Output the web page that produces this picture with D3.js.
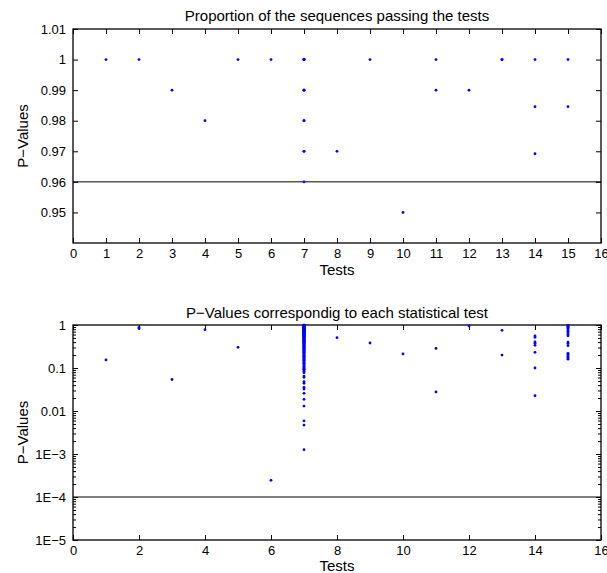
<!DOCTYPE html>
<html>
<head>
<meta charset="utf-8">
<script src="https://cdn.jsdelivr.net/npm/d3@7"></script>
<style>
  html, body { margin: 0; padding: 0; background: #fff; }
  svg { display: block; }
  text { font-family: "Liberation Sans", Arial, Helvetica, sans-serif; fill: #000; }
</style>
</head>
<body>
<svg id="chart" width="607" height="573"></svg>
<script>
// ---------------- DATA ----------------
const tests = [1,2,3,4,5,6,7,8,9,10,11,12,13,14,15];

// Proportion of sequences passing each test (one array per test)
const proportions = [
  [1],
  [1],
  [0.99],
  [0.98],
  [1],
  [1],
  [1,1,1,1,0.99,0.99,0.99,0.98,0.98,0.97,0.97,0.96],
  [0.97],
  [1],
  [0.95],
  [1,0.99],
  [0.99],
  [1,1],
  [1,0.9846,0.9692],
  [1,0.9846]
];

// P-values for each test (one array per test)
const pvalues = [
  [0.1538],
  [0.83,0.88],
  [0.054],
  [0.78],
  [0.303],
  [0.000244],
  [0.00126,0.0047,0.0059,0.013,0.0187,0.0258,0.0324,0.0356,0.044,0.048,0.0607,0.065,0.078,
   0.0813,0.0862,0.0905,0.0941,0.0987,0.1032,0.1079,0.1124,0.1188,0.1235,0.1297,0.1342,0.1411,
   0.1476,0.1523,0.1589,0.1654,0.1712,0.1786,0.1843,0.1912,0.1977,0.2045,0.2113,0.2189,0.2256,
   0.2318,0.2391,0.2467,0.2534,0.2611,0.2689,0.2745,0.2823,0.2898,0.2967,0.3045,0.3121,0.3199,
   0.3265,0.3342,0.3418,0.3496,0.3571,0.3647,0.3722,0.3801,0.3879,0.3954,0.4028,0.4106,0.4183,
   0.4257,0.4339,0.4412,0.4489,0.4563,0.4641,0.4718,0.4796,0.4871,0.4952,0.5027,0.5103,0.5182,
   0.5258,0.5336,0.5412,0.5493,0.5567,0.5648,0.5722,0.5801,0.5879,0.5955,0.6032,0.6111,0.6187,
   0.6265,0.6343,0.6419,0.6497,0.6574,0.6652,0.6729,0.6808,0.6885,0.6961,0.7039,0.7116,0.7194,
   0.7272,0.7349,0.7427,0.7503,0.7581,0.7659,0.7736,0.7813,0.7892,0.7968,0.8046,0.8123,0.8201,
   0.8279,0.8356,0.8434,0.8511,0.8589,0.8666,0.8744,0.8821,0.8898,0.8976,0.9053,0.9131,0.9208,
   0.9286,0.9363,0.9441,0.9518,0.9596,0.9673,0.9751,0.9828,0.9906,0.9962],
  [0.507],
  [0.381],
  [0.212],
  [0.286,0.0277],
  [0.95],
  [0.75,0.2],
  [0.555,0.518,0.402,0.375,0.337,0.232,0.1,0.0227],
  [0.98,0.93,0.89,0.84,0.78,0.72,0.66,0.60,0.56,0.40,0.37,0.33,0.22,0.205,0.19,0.18,0.17,0.16]
];

const topXTicks = [0,1,2,3,4,5,6,7,8,9,10,11,12,13,14,15,16];
const topYTicks = [0.95,0.96,0.97,0.98,0.99,1,1.01];
const topYLabels = ["0.95","0.96","0.97","0.98","0.99","1","1.01"];
const botXTicks = [0,2,4,6,8,10,12,14,16];
const botYTicks = [1e-5,1e-4,1e-3,1e-2,1e-1,1];
const botYLabels = ["1E\u22125","1E\u22124","1E\u22123","0.01","0.1","1"];
const propThreshold = 0.96;
const pvThreshold = 1e-4;

const titleTop = "Proportion of the sequences passing the tests";
const titleBot = "P\u2212Values correspondig to each statistical test";
const xLabel = "Tests";
const yLabel = "P\u2212Values";

// ---------------- DRAW ----------------
const svg = d3.select("#chart");
const L = 73, R = 601;
const fs = 13;      // tick labels
const fsl = 15;     // titles and axis labels

function flatten(arr) {
  const out = [];
  arr.forEach((vals, i) => vals.forEach(v => out.push({t: tests[i], v})));
  return out;
}

function panel(opts) {
  const {top, bottom, y, yTicks, yLabels, xTicks, minor, data, thr, title, titleY, xLabY} = opts;
  const x = d3.scaleLinear().domain([0,16]).range([L,R]);
  const g = svg.append("g");

  // threshold line
  g.append("line")
    .attr("x1", x(0)).attr("x2", x(16))
    .attr("y1", y(thr)).attr("y2", y(thr))
    .attr("stroke", "#000").attr("stroke-width", 1);

  // axes
  const styleAxis = sel => {
    sel.select(".domain").remove();
    sel.selectAll("line").attr("stroke", "#000").attr("stroke-width", 1);
    sel.selectAll("text").attr("font-size", fs).attr("font-family", null).style("fill","#000");
  };
  g.append("g").attr("transform", `translate(0,${bottom})`)
    .call(d3.axisBottom(x).tickValues(xTicks).tickSize(-5).tickPadding(6).tickFormat(d3.format("d")))
    .call(styleAxis);
  g.append("g").attr("transform", `translate(0,${top})`)
    .call(d3.axisTop(x).tickValues(xTicks).tickSize(-5).tickFormat(""))
    .call(styleAxis);
  g.append("g").attr("transform", `translate(${L},0)`)
    .call(d3.axisLeft(y).tickValues(yTicks).tickSize(-5).tickPadding(7).tickFormat((d,i) => yLabels[i]))
    .call(styleAxis);
  g.append("g").attr("transform", `translate(${R},0)`)
    .call(d3.axisRight(y).tickValues(yTicks).tickSize(-5).tickFormat(""))
    .call(styleAxis);
  if (minor) {
    g.append("g").attr("transform", `translate(${L},0)`)
      .call(d3.axisLeft(y).tickValues(minor).tickSize(-3).tickFormat(""))
      .call(styleAxis);
    g.append("g").attr("transform", `translate(${R},0)`)
      .call(d3.axisRight(y).tickValues(minor).tickSize(-3).tickFormat(""))
      .call(styleAxis);
  }

  // box
  g.append("rect")
    .attr("x", L).attr("y", top).attr("width", R - L).attr("height", bottom - top)
    .attr("fill", "none").attr("stroke", "#000").attr("stroke-width", 1.3);

  // points
  g.append("g").selectAll("circle").data(data).join("circle")
    .attr("cx", d => x(d.t)).attr("cy", d => y(d.v)).attr("r", 1.4)
    .attr("fill", "#0000ff");

  // title
  svg.append("text").attr("x", (L + R) / 2).attr("y", titleY)
    .attr("text-anchor", "middle").attr("font-size", fsl).text(title);
  // x label
  svg.append("text").attr("x", (L + R) / 2).attr("y", xLabY)
    .attr("text-anchor", "middle").attr("font-size", fsl).text(xLabel);
  // y label
  svg.append("text")
    .attr("transform", `translate(28,${(top + bottom) / 2}) rotate(-90)`)
    .attr("text-anchor", "middle").attr("font-size", fsl).text(yLabel);
}

// top panel
const topTop = 29, topBot = 243;
panel({
  top: topTop, bottom: topBot,
  y: d3.scaleLinear().domain([0.94, 1.01]).range([topBot, topTop]),
  yTicks: topYTicks, yLabels: topYLabels, xTicks: topXTicks,
  minor: null, data: flatten(proportions), thr: propThreshold, title: titleTop,
  titleY: 20.5, xLabY: 274.5
});

// bottom panel
const botTop = 325, botBot = 540;
const minorTicks = [];
botYTicks.slice(0, -1).forEach(b => { for (let k = 2; k <= 9; k++) minorTicks.push(b * k); });
panel({
  top: botTop, bottom: botBot,
  y: d3.scaleLog().domain([1e-5, 1]).range([botBot, botTop]),
  yTicks: botYTicks, yLabels: botYLabels, xTicks: botXTicks,
  minor: minorTicks, data: flatten(pvalues), thr: pvThreshold, title: titleBot,
  titleY: 317.5, xLabY: 571
});
</script>
</body>
</html>
